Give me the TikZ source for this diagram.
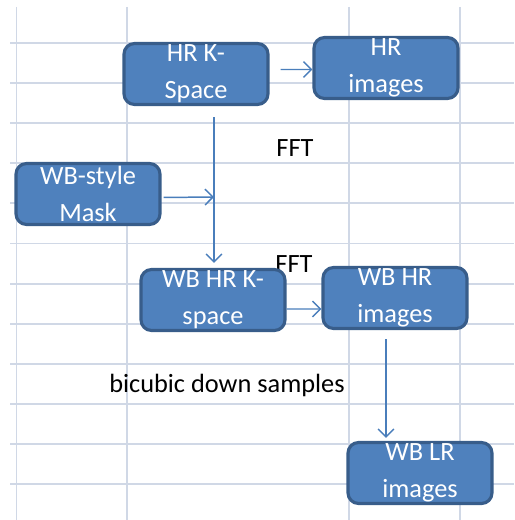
\documentclass[tikz,border=0pt]{standalone}
\usepackage{fontspec}
\setmainfont{Carlito}
\usetikzlibrary{arrows.meta}

\begin{document}
\begin{tikzpicture}[x=0.02cm, y=-0.02cm,
	stage/.style={draw=boxline, fill=boxfill, line width=1.8pt, rounded corners=6pt, minimum width=2.88cm, minimum height=1.22cm, inner sep=0pt, align=center, text=white, font=\fontsize{15}{21}\selectfont},
	flow/.style={draw=arrowcol, line width=0.85pt, -{Straight Barb[length=4.5pt, width=9pt]}},
	caption/.style={font=\fontsize{15}{18}\selectfont}]
	\definecolor{gridcol}{RGB}{208,216,230}
	\definecolor{boxfill}{RGB}{79,129,189}
	\definecolor{boxline}{RGB}{56,93,138}
	\definecolor{arrowcol}{RGB}{74,126,187}
	\useasboundingbox (0, 0) rectangle (514, 520);
	\foreach \x in {16.5, 127, 349, 460} {
		\draw[gridcol, line width=1.1pt] (\x, 7) -- (\x, 520);
	}
	\foreach \k in {0, ..., 11} {
		\draw[gridcol, line width=1.1pt] (10, {43+40.1*\k}) -- (514, {43+40.1*\k});
	}
	\node[caption] (fftone) at (295, 148) {FFT};
	\node[caption] (ffttwo) at (294, 264) {FFT};
	\node[caption] (bicubic) at (227, 385) {bicubic down samples};
	\node[stage] (hrk) at (196, 74) {HR K-\\Space};
	\node[stage] (hri) at (386, 68) {HR\\images};
	\node[stage] (mask) at (88, 194) {WB-style\\Mask};
	\node[stage] (wbk) at (213, 300) {WB HR K-\\space};
	\node[stage] (wbi) at (395, 298) {WB HR\\images};
	\node[stage] (wbl) at (420, 473) {WB LR\\images};
	\coordinate (join) at (214, 197);
	\coordinate (drop) at ([xshift=-0.18cm]wbi.south);
	\draw[flow, shorten <=0.22cm] ([yshift=0.09cm]hrk.east) -- ([yshift=-0.03cm]hri.west);
	\draw[flow, shorten <=0.22cm, shorten >=0.1cm] (hrk.south -| join) -- (wbk.north -| join);
	\draw[flow, shorten <=0.04cm] ([yshift=-0.07cm]mask.east) -- (join);
	\draw[flow] ([yshift=-0.18cm]wbk.east) -- ([yshift=-0.22cm]wbi.west);
	\draw[flow, shorten <=0.18cm, shorten >=0.06cm] (drop) -- (drop |- wbl.north);
\end{tikzpicture}
\end{document}
